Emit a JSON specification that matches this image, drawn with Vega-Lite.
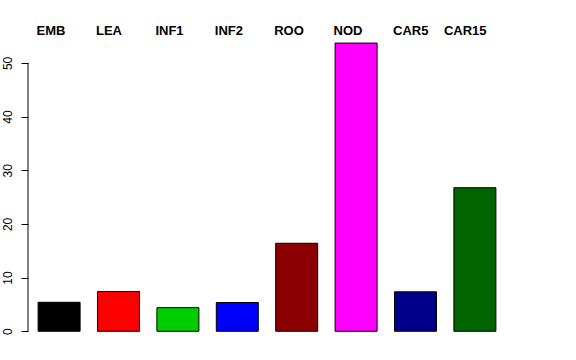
{
  "$schema": "https://vega.github.io/schema/vega-lite/v6.json",
  "autosize": "none",
  "width": 478,
  "height": 322,
  "padding": {"left": 28, "top": 20, "right": 70, "bottom": 18},
  "background": "white",
  "config": {
    "view": {"stroke": null},
    "font": "Liberation Sans",
    "axis": {"labelFont": "Liberation Sans", "labelColor": "black", "grid": false, "title": null}
  },
  "data": {
    "values": [
      {"tissue": "EMB", "value": 5.4},
      {"tissue": "LEA", "value": 7.4},
      {"tissue": "INF1", "value": 4.4},
      {"tissue": "INF2", "value": 5.35},
      {"tissue": "ROO", "value": 16.4},
      {"tissue": "NOD", "value": 53.7},
      {"tissue": "CAR5", "value": 7.35},
      {"tissue": "CAR15", "value": 26.75}
    ]
  },
  "layer": [
    {
      "mark": {"type": "bar", "stroke": "black", "strokeWidth": 1},
      "encoding": {
        "x": {
          "field": "tissue",
          "type": "nominal",
          "sort": null,
          "scale": {"paddingInner": 0.293, "paddingOuter": 0.17},
          "axis": {
            "orient": "top",
            "domain": false,
            "ticks": false,
            "labelAngle": 0,
            "labelFontWeight": "bold",
            "labelFontSize": 13,
            "labelAlign": "left",
            "labelBaseline": "alphabetic",
            "labelOffset": {"condition": {"test": "datum.value === 'CAR15'", "value": -31}, "value": -22.5},
            "labelPadding": -14.5
          }
        },
        "y": {
          "field": "value",
          "type": "quantitative",
          "scale": {"domain": [-2, 58], "nice": false, "zero": false},
          "axis": {
            "values": [0, 10, 20, 30, 40, 50],
            "domain": false,
            "tickSize": 7,
            "tickColor": "black",
            "labelFontSize": 12,
            "labelAngle": 270,
            "labelPadding": 7
          }
        },
        "y2": {"datum": 0},
        "color": {
          "field": "tissue",
          "type": "nominal",
          "legend": null,
          "scale": {
            "domain": ["EMB", "LEA", "INF1", "INF2", "ROO", "NOD", "CAR5", "CAR15"],
            "range": ["#000000", "#FF0000", "#00CD00", "#0000FF", "#8B0000", "#FF00FF", "#00008B", "#006400"]
          }
        }
      }
    },
    {
      "data": {"values": [{"lo": 0, "hi": 50}]},
      "mark": {"type": "rule", "color": "black", "strokeWidth": 1},
      "encoding": {
        "x": {"value": 0},
        "y": {"field": "lo", "type": "quantitative"},
        "y2": {"field": "hi"}
      }
    }
  ]
}
